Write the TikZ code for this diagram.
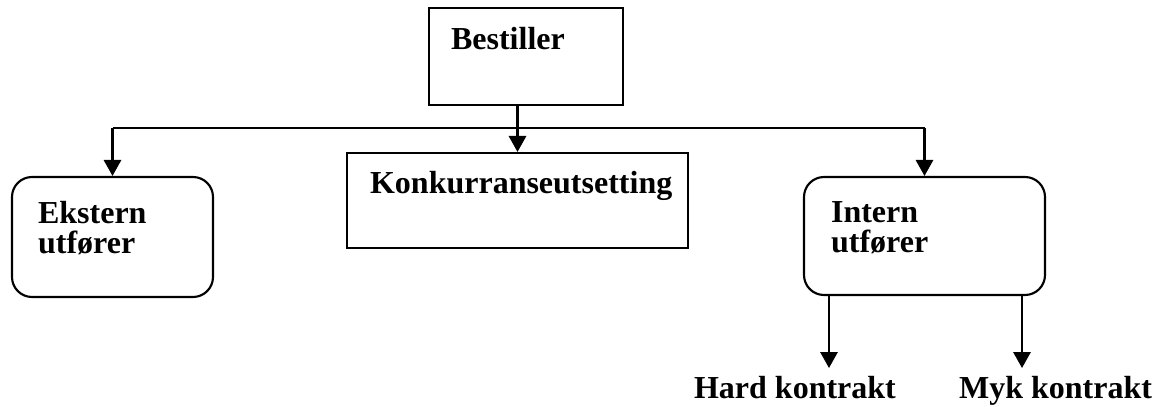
\documentclass[tikz,border=0pt]{standalone}
\usepackage{fontspec}
\setmainfont{Liberation Serif}
\usetikzlibrary{arrows.meta}
\begin{document}
\begin{tikzpicture}[x=0.75pt,y=-0.75pt,>={Triangle[width=13pt,length=12pt]},
  line width=1.6pt,
  box/.style={draw,line width=1.6pt,inner sep=0pt},
  round box/.style={box,rounded corners=15pt},
  box text/.style={font=\fontsize{24}{22.5}\selectfont\bfseries,inner sep=0pt,align=left,anchor=base west}]
  \useasboundingbox (0,0) rectangle (1158,407);
  \node[box]       (bestiller) at (526,56.5)  [minimum width=145.5pt,minimum height=72.75pt] {};
  \node[box]       (konk)      at (517.5,200.5) [minimum width=255.75pt,minimum height=71.25pt] {};
  \node[round box] (ekstern)   at (112.5,237) [minimum width=150.75pt,minimum height=90pt] {};
  \node[round box] (intern)    at (924.5,236) [minimum width=180.75pt,minimum height=88.5pt] {};
  \node[box text] (bestillertxt) at (450,50)  {Bestiller};
  \node[box text] (konktxt)      at (369,193) {Konkurranseutsetting};
  \node[box text] (eksterntxt)   at (37,253)  {Ekstern\\utfører};
  \node[box text] (interntxt)    at (830,252) {Intern\\utfører};
  \node[box text] (hard)         at (693,398) {Hard kontrakt};
  \node[box text] (myk)          at (958,398) {Myk kontrakt};
  \coordinate (split) at (516,128);
  \coordinate (hardtip) at (829,368);
  \coordinate (myktip)  at (1022,368);
  \draw (ekstern.north |- split) -- (intern.north |- split);
  \draw[->] (bestiller.south -| konk.north) -- (konk.north);
  \draw[->] (ekstern.north |- split) -- (ekstern.north);
  \draw[->] (intern.north |- split) -- (intern.north);
  \draw[->] (intern.south -| hardtip) -- (hardtip);
  \draw[->] (intern.south -| myktip) -- (myktip);
\end{tikzpicture}
\end{document}
